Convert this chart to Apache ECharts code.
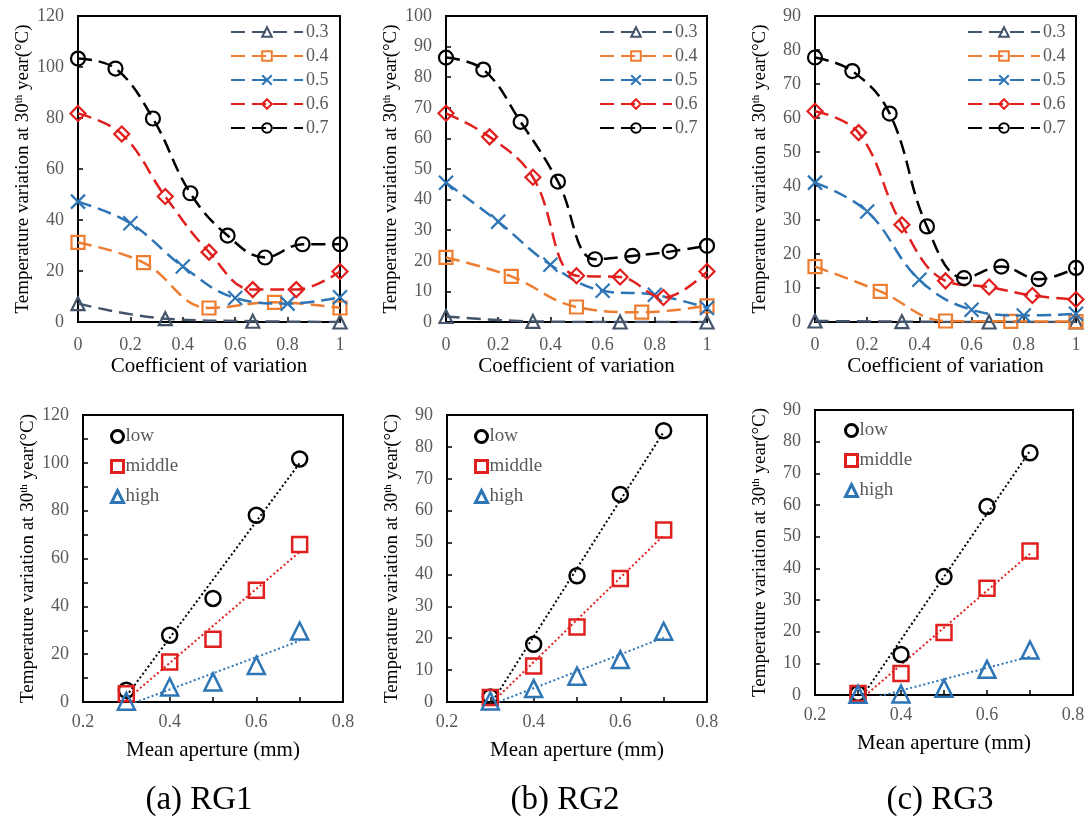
<!DOCTYPE html>
<html>
<head>
<meta charset="utf-8">
<script src="https://cdn.jsdelivr.net/npm/echarts@6/dist/echarts.min.js"></script>
<style>html,body{margin:0;padding:0;background:#fff}#c{width:1090px;height:821px}</style>
</head>
<body>
<div id="c"></div>
<script>
// ---- x positions (coefficient of variation) for each mean-aperture series ----
const cvX_03 = [0, 0.333, 0.667, 1];
const cvX_04 = [0, 0.25, 0.5, 0.75, 1];
const cvX_05 = [0, 0.2, 0.4, 0.6, 0.8, 1];
const cvX_06 = [0, 0.167, 0.333, 0.5, 0.667, 0.833, 1];
const cvX_07 = [0, 0.143, 0.286, 0.429, 0.571, 0.714, 0.857, 1];
const cvNames = ['0.3', '0.4', '0.5', '0.6', '0.7'];

// ---- RG1 (top) ----
const rg1_03 = [7.2, 1.3, 0.3, 0];
const rg1_04 = [31.2, 23.3, 5.5, 7.7, 5.5];
const rg1_05 = [47.2, 38.7, 21.8, 9.4, 7.2, 9.7];
const rg1_06 = [81.8, 73.7, 49.2, 27.4, 12.7, 12.7, 19.8];
const rg1_07 = [103.3, 99.4, 79.8, 50.5, 33.9, 25.3, 30.5, 30.5];
// ---- RG2 (top) ----
const rg2_03 = [1.8, 0.2, 0, 0];
const rg2_04 = [21.1, 14.9, 4.9, 3.2, 5.3];
const rg2_05 = [45.5, 32.8, 18.7, 10.2, 8.9, 4.6];
const rg2_06 = [68.2, 60.5, 47.3, 15.1, 14.7, 8.0, 16.5];
const rg2_07 = [86.4, 82.5, 65.4, 45.9, 20.5, 21.6, 23.0, 24.9];
// ---- RG3 (top) ----
const rg3_03 = [0.3, 0.1, 0, 0];
const rg3_04 = [16.3, 9.0, 0.3, 0.2, 0.1];
const rg3_05 = [41.0, 32.5, 12.4, 3.6, 1.9, 2.4];
const rg3_06 = [62.0, 55.7, 28.6, 12.1, 10.3, 7.8, 6.6];
const rg3_07 = [77.8, 73.8, 61.3, 28.1, 12.9, 16.3, 12.6, 15.9];

// ---- bottom: mean aperture ----
const apX = [0.3, 0.4, 0.5, 0.6, 0.7];
const levelNames = ['low', 'middle', 'high'];
const rg1_low = [4.9, 27.9, 43.3, 78.1, 101.6];
const rg1_mid = [3.5, 16.7, 26.2, 46.7, 65.9];
const rg1_high = [0.3, 6.3, 8.4, 15.3, 29.7];
const rg2_low = [1.6, 18.1, 39.6, 65.1, 85.1];
const rg2_mid = [1.4, 11.3, 23.5, 38.7, 53.9];
const rg2_high = [0.3, 4.2, 8.1, 13.3, 22.2];
const rg3_low = [0.5, 12.8, 37.4, 59.5, 76.5];
const rg3_mid = [0.5, 6.8, 19.7, 33.7, 45.5];
const rg3_high = [0.2, 0.3, 2.1, 8.1, 14.2];

const captions = ['(a) RG1', '(b) RG2', '(c) RG3'];

// ---------------- styling / layout ----------------
const FONT = '"Liberation Serif","Times New Roman",serif';
const GRAY = '#595959';
const cvColors = ['#44546A', '#ED7D31', '#2E75B6', '#E0201E', '#000000'];
const cvSymbols = ['triangle', 'rect', 'path://M0,0L10,10M0,10L10,0', 'diamond', 'circle'];
const cvSizes = [13, 13, 14, 15, 14];
const lvColors = ['#000000', '#E0201E', '#2E75B6'];
const lvSymbols = ['circle', 'rect', 'triangle'];

const topGrids = [
  {left: 78, top: 16, width: 262, height: 306},
  {left: 446, top: 16, width: 261, height: 306},
  {left: 815, top: 16, width: 261, height: 306}
];
const botGrids = [
  {left: 83, top: 415, width: 260, height: 287},
  {left: 447, top: 415, width: 260, height: 287},
  {left: 815, top: 410, width: 258, height: 285}
];
const topY = [{max: 120, interval: 20}, {max: 100, interval: 10}, {max: 90, interval: 10}];
const botY = [{max: 120, interval: 20}, {max: 90, interval: 10}, {max: 90, interval: 10}];
const topLegendLeft = [230, 599, 967];
const botLegend = [{left: 110, top: 427}, {left: 474, top: 427}, {left: 844, top: 421}];
const captionX = [199, 565, 940];

const topData = [
  [rg1_03, rg1_04, rg1_05, rg1_06, rg1_07],
  [rg2_03, rg2_04, rg2_05, rg2_06, rg2_07],
  [rg3_03, rg3_04, rg3_05, rg3_06, rg3_07]
];
const cvXs = [cvX_03, cvX_04, cvX_05, cvX_06, cvX_07];
const botData = [
  [rg1_low, rg1_mid, rg1_high],
  [rg2_low, rg2_mid, rg2_high],
  [rg3_low, rg3_mid, rg3_high]
];

const yName = 'Temperature variation at 30{s|th} year(°C)';
const yNameStyle = {
  fontFamily: FONT, fontSize: 19, color: '#000',
  rich: {s: {fontFamily: FONT, fontSize: 11, color: '#000', verticalAlign: 'top'}}
};

function linReg(xs, ys) {
  const n = xs.length;
  const mx = xs.reduce((a, b) => a + b, 0) / n;
  const my = ys.reduce((a, b) => a + b, 0) / n;
  let sxy = 0, sxx = 0;
  for (let i = 0; i < n; i++) { sxy += (xs[i] - mx) * (ys[i] - my); sxx += (xs[i] - mx) ** 2; }
  const b = sxy / sxx, a = my - b * mx;
  return [[xs[0], a + b * xs[0]], [xs[n - 1], a + b * xs[n - 1]]];
}

const grid = [], xAxis = [], yAxis = [], series = [], legend = [], graphic = [];

function axisCommon() {
  return {
    axisLine: {show: true, onZero: false, lineStyle: {color: '#000', width: 2}},
    axisTick: {show: true, inside: true, length: 5, lineStyle: {color: '#000', width: 1.5}},
    splitLine: {show: false},
    axisLabel: {fontFamily: FONT, fontSize: 18, color: GRAY}
  };
}

for (let p = 0; p < 3; p++) {
  // top panel
  const gi = 2 * p;
  grid.push(Object.assign({show: true, borderColor: '#000', borderWidth: 2, containLabel: false}, topGrids[p]));
  const xa = axisCommon();
  Object.assign(xa, {type: 'value', gridIndex: gi, min: 0, max: 1, interval: 0.2,
    name: 'Coefficient of variation', nameLocation: 'middle', nameGap: 34,
    nameTextStyle: {fontFamily: FONT, fontSize: 21, color: '#000'}});
  xa.axisLabel.margin = 14;
  xAxis.push(xa);
  const ya = axisCommon();
  Object.assign(ya, {type: 'value', gridIndex: gi, min: 0, max: topY[p].max, interval: topY[p].interval,
    name: yName, nameLocation: 'middle', nameGap: 45, nameTextStyle: yNameStyle});
  ya.axisLabel.margin = 14;
  yAxis.push(ya);
  for (let s = 0; s < 5; s++) {
    const xs = cvXs[s], ys = topData[p][s], c = cvColors[s];
    series.push({
      type: 'line', name: cvNames[s], xAxisIndex: gi, yAxisIndex: gi,
      data: xs.map((x, i) => [x, ys[i]]),
      smooth: 0.4, symbol: cvSymbols[s], symbolSize: cvSizes[s], showAllSymbol: true,
      lineStyle: {color: c, width: 2.5, type: [14, 7]},
      itemStyle: {color: 'rgba(255,255,255,0)', borderColor: c, borderWidth: 2.2},
      emphasis: {disabled: true}, silent: true, animation: false, z: 2 + s
    });
  }
  legend.push({
    data: cvNames, left: topLegendLeft[p], top: 23, orient: 'vertical', padding: 0,
    itemWidth: 72, itemHeight: 12, itemGap: 6,
    textStyle: {fontFamily: FONT, fontSize: 18, color: GRAY, padding: [0, 0, 0, -2]}, selectedMode: false
  });

  // bottom panel
  const bi = 2 * p + 1;
  grid.push(Object.assign({show: true, borderColor: '#000', borderWidth: 2, containLabel: false}, botGrids[p]));
  const bx = axisCommon();
  Object.assign(bx, {type: 'value', gridIndex: bi, min: 0.2, max: 0.8, interval: 0.2,
    minorTick: {show: true, splitNumber: 2, length: 5, lineStyle: {color: '#000', width: 1.5}},
    name: 'Mean aperture (mm)', nameLocation: 'middle', nameGap: 38,
    nameTextStyle: {fontFamily: FONT, fontSize: 21, color: '#000'}});
  bx.axisLabel.margin = 11;
  xAxis.push(bx);
  const by = axisCommon();
  Object.assign(by, {type: 'value', gridIndex: bi, min: 0, max: botY[p].max, interval: botY[p].interval,
    minorTick: {show: p === 0, splitNumber: 2, length: 5, lineStyle: {color: '#000', width: 1.5}},
    name: yName, nameLocation: 'middle', nameGap: 45, nameTextStyle: yNameStyle});
  by.axisLabel.margin = 14;
  yAxis.push(by);
  for (let s = 0; s < 3; s++) {
    const ys = botData[p][s], c = lvColors[s];
    series.push({
      type: 'line', name: levelNames[s] + ' trend ' + p, xAxisIndex: bi, yAxisIndex: bi,
      data: linReg(apX, ys), symbol: 'none', clip: true,
      lineStyle: {color: c, width: 2, type: [2, 2.5]},
      emphasis: {disabled: true}, silent: true, animation: false, z: 1
    });
  }
  for (let s = 0; s < 3; s++) {
    const ys = botData[p][s], c = lvColors[s];
    series.push({
      type: 'scatter', name: levelNames[s], xAxisIndex: bi, yAxisIndex: bi,
      data: apX.map((x, i) => [x, ys[i]]),
      symbol: lvSymbols[s], symbolSize: s === 2 ? 17 : 15, clip: false,
      itemStyle: {color: 'rgba(255,255,255,0)', borderColor: c, borderWidth: 2.5, opacity: 1},
      emphasis: {disabled: true}, silent: true, animation: false, z: 5
    });
  }
  legend.push({
    data: levelNames, left: botLegend[p].left, top: botLegend[p].top, orient: 'vertical', padding: 0,
    itemWidth: 12, itemHeight: 12, itemGap: 11,
    itemStyle: {borderWidth: 3},
    textStyle: {fontFamily: FONT, fontSize: 19, color: GRAY, padding: [0, 0, 0, -3]}, selectedMode: false
  });

  graphic.push({
    type: 'text', x: captionX[p], y: 800,
    style: {text: captions[p], fontFamily: FONT, fontSize: 33, fill: '#000', align: 'center', verticalAlign: 'middle'}
  });
}

const chart = echarts.init(document.getElementById('c'), null, {renderer: 'canvas'});
chart.setOption({
  backgroundColor: '#fff',
  animation: false,
  grid, xAxis, yAxis, series, legend, graphic
});
</script>
</body>
</html>
